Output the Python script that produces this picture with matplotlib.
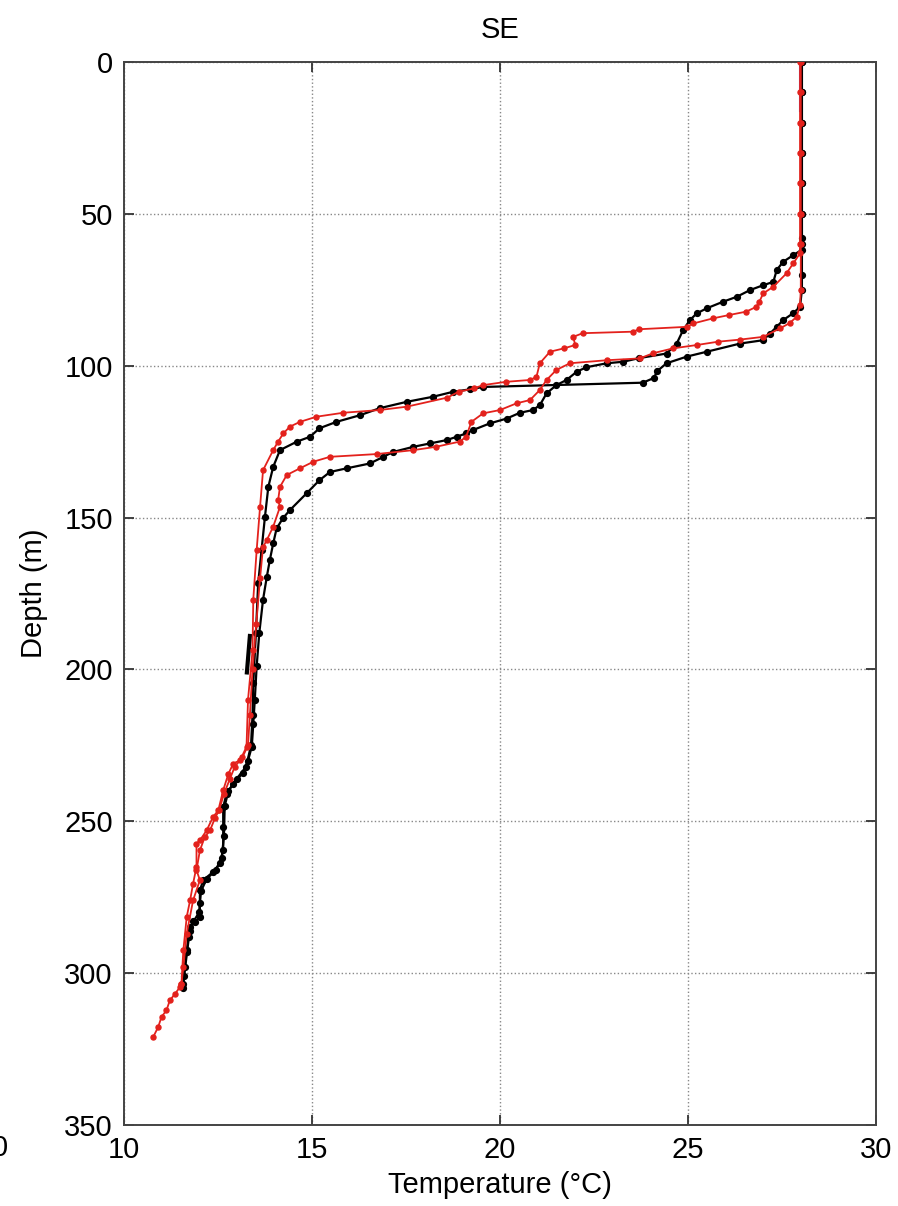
import numpy as np
import matplotlib.pyplot as plt

plt.rcParams['font.family'] = ['Liberation Sans', 'DejaVu Sans']

# profils de temperature (temperature en degC, profondeur en m)
blk1_T = [28.03, 28.03, 28.03, 28.03, 28.03, 28.03, 28.03, 28.02, 27.8, 27.53, 27.36, 27.27, 27.0, 26.65,
          26.3, 25.94, 25.5, 25.23, 25.05, 24.87, 24.7, 24.43, 23.7, 23.28, 22.84, 22.3, 22.04, 21.77,
          21.5, 21.24, 21.06, 20.88, 20.53, 20.18, 19.73, 19.28, 19.1, 18.85, 18.58, 18.14, 17.7,
          17.16, 16.9, 16.54, 15.92, 15.48, 15.2, 14.86, 14.41, 14.23, 14.06, 13.97, 13.88, 13.8,
          13.7, 13.6, 13.53, 13.48, 13.44, 13.4, 13.3, 13.17, 12.91, 12.73, 12.64, 12.64, 12.64, 12.55,
          12.37, 12.11, 12.02, 12.02, 12.02, 11.89, 11.76, 11.72, 11.67, 11.62, 11.58]
blk1_D = [0, 10, 20, 30, 40, 50, 58, 61.9, 63.6, 65.8, 68.5, 72.4, 73.5, 75.1, 77.3, 78.9, 81.1, 82.8,
          85, 88.3, 92.7, 96, 97.5, 98.7, 99.2, 100.5, 102, 104.7, 106.4, 109.1, 113, 114.6, 115.5,
          117.4, 119, 121.2, 122.3, 123.4, 124.5, 125.6, 126.7, 128.4, 130, 132.2, 133.8, 135, 137.7,
          142, 147.6, 150.2, 153.6, 158.5, 164, 169.5, 177, 188, 199, 210, 218, 225.5, 230, 234, 237.6,
          240.9, 245.3, 252, 259.6, 263.9, 266.7, 269.4, 272.7, 277, 281.5, 283.2, 284.8, 288, 292.5,
          298, 303.5]

blk2_T = [28.03, 28.03, 28.03, 28.03, 28.03, 28.03, 28.03, 28.03, 28.03, 27.98, 27.8, 27.53, 27.36,
          27.18, 27.0, 26.39, 25.5, 24.97, 24.43, 24.17, 24.1, 23.8, 19.55, 19.2, 18.75, 18.23, 17.52,
          16.8, 16.28, 15.65, 15.2, 14.95, 14.6, 14.15, 13.97, 13.84, 13.75, 13.66, 13.57, 13.51,
          13.44, 13.42, 13.38, 13.25, 13.0, 12.78, 12.68, 12.66, 12.6, 12.45, 12.2, 12.05, 12.0,
          11.85, 11.75, 11.68, 11.6, 11.57]
blk2_D = [0, 10, 20, 30, 40, 50, 60, 70, 75, 80.6, 82.7, 85, 87.2, 89.4, 91.6, 92.7, 95.4, 97, 99.2,
          101.9, 104, 105.6, 107, 107.8, 108.6, 110.2, 111.9, 114, 116.3, 118.5, 120.6, 123.4, 125,
          127.8, 133.3, 139.9, 149.8, 160.7, 171.7, 188, 204.6, 215, 225, 232, 236, 240, 245, 255, 262,
          266, 269, 273, 280, 283, 286, 293, 301, 305]

# petit bout noir isole vers 190-200 m
blk3_T = [13.35, 13.31, 13.27]
blk3_D = [189, 195, 201]

redA_T = [27.98, 27.98, 27.98, 27.98, 27.98, 27.98, 27.98, 27.98, 27.8, 27.62, 27.27, 27.0, 26.9, 26.82,
          26.55, 26.1, 25.67, 25.14, 24.97, 23.7, 23.54, 22.2, 21.95, 22.0, 21.7, 21.33, 21.06, 20.97,
          20.8, 20.17, 19.55, 19.3, 18.9, 18.6, 17.52, 16.8, 15.83, 15.12, 14.68, 14.41, 14.24, 14.1,
          13.97, 13.7, 13.62, 13.53, 13.44, 13.42, 13.3, 13.26, 13.09, 12.91, 12.78, 12.64, 12.51,
          12.37, 12.2, 12.02, 11.93, 11.93, 11.84, 11.76, 11.67, 11.58, 11.53, 11.49, 11.36, 11.22,
          11.13, 11.0, 10.91, 10.78]
redA_D = [0, 10, 20, 30, 40, 50, 60, 63, 66.3, 69.6, 74, 76.2, 78.9, 80.6, 82.2, 83.3, 84.4, 86.1,
          87.2, 88, 88.8, 89.3, 90.5, 93.2, 94.3, 95.4, 99.2, 103.7, 104.7, 105.3, 106.4, 107.5, 108.6,
          110.5, 113.5, 114.6, 115.5, 116.8, 118.5, 120.1, 122.3, 125, 127.8, 134.4, 146.5, 160.7, 177,
          193.7, 210, 225.5, 229.9, 231, 234.3, 239.8, 246.4, 248.6, 253, 256.3, 257.4, 265, 270.5,
          276, 281.5, 292.5, 303.5, 304.6, 306.8, 309, 312.3, 314.4, 317.8, 321]

redB_T = [28.0, 28.0, 28.0, 28.0, 28.0, 28.0, 28.0, 28.0, 27.98, 27.89, 27.7, 27.45, 27.0, 26.39, 25.8,
          25.23, 24.6, 24.07, 23.72, 22.84, 21.86, 21.5, 21.24, 21.06, 20.8, 20.44, 20.0, 19.55, 19.24,
          19.1, 18.93, 18.3, 17.7, 16.72, 15.48, 15.04, 14.68, 14.33, 14.15, 14.1, 14.15, 13.97, 13.8,
          13.7, 13.62, 13.52, 13.42, 13.35, 13.3, 13.15, 12.95, 12.82, 12.66, 12.53, 12.42, 12.29,
          12.15, 12.02, 11.93, 12.02, 11.84, 11.67, 11.58, 11.53]
redB_D = [0, 10, 20, 30, 40, 50, 60, 75, 80, 83.9, 86, 87.7, 90.5, 91.4, 92.1, 93.2, 94.3, 95.9, 97.6,
          98.2, 99.2, 101.4, 104.7, 108, 111.3, 112.4, 114.6, 115.7, 118.5, 123.4, 125, 126.7, 127.8,
          129.1, 130, 131.6, 133.8, 136, 139.9, 144.3, 146.5, 153, 157.4, 159.7, 170, 185, 200, 215,
          225, 229, 232, 236, 241, 246.4, 249, 253, 255.2, 259.6, 266.1, 269.4, 276, 287, 298, 303.5]

blue_T = [27.97, 27.97, 27.97]
blue_D = [1, 8, 16]

xticks = [10, 15, 20, 25, 30]
yticks = [0, 50, 100, 150, 200, 250, 300, 350]

fig = plt.figure(figsize=(8.98, 12.06), dpi=100)
ax = fig.add_axes([0.138, 0.0672, 0.8375, 0.8814])

noir = '#000000'
rouge = '#e3211c'
ax.plot(blue_T, blue_D, '-', color='#5a5ad0', lw=1.5, zorder=2)
ax.plot(blk1_T, blk1_D, '-o', color=noir, lw=1.6, ms=4.2, zorder=3)
ax.plot(redA_T, redA_D, '-o', color=rouge, lw=1.3, ms=3.6, zorder=4)
ax.plot(blk2_T, blk2_D, '-o', color=noir, lw=1.6, ms=4.2, zorder=3)
ax.plot(redB_T, redB_D, '-o', color=rouge, lw=1.3, ms=3.6, zorder=4)
ax.plot(blk3_T, blk3_D, '-', color=noir, lw=3, zorder=3)

ax.set_xlim(10, 30)
ax.set_ylim(350, 0)
ax.set_xticks(xticks)
ax.set_yticks(yticks)
ax.grid(True, linestyle=':', color='#888888', lw=1)
ax.tick_params(direction='in', length=7, width=1.3, labelsize=21, top=True, right=True,
               color='#333333', pad=8)
for s in ax.spines.values():
    s.set_linewidth(1.4)
    s.set_color('#444444')

ax.set_title('SE', fontsize=21, pad=17)
ax.set_xlabel('Temperature (°C)', fontsize=21, labelpad=5)
ax.set_ylabel('Depth (m)', fontsize=21, labelpad=12)

# bout de label du panneau voisin
fig.text(8 / 898, 1 - 1148 / 1206, '0', fontsize=21, ha='right', va='center')

plt.savefig('out.png')
